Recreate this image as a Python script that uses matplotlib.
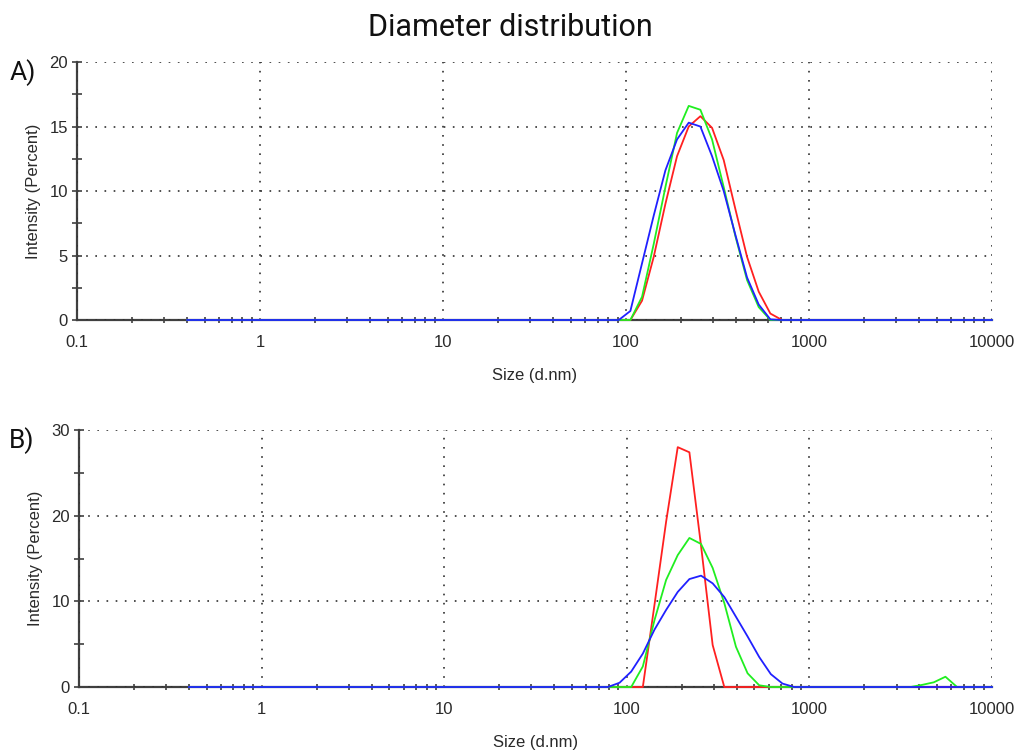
import numpy as np
import matplotlib.pyplot as plt
from matplotlib.ticker import FixedLocator, NullFormatter

# Size bins (d.nm)
sizes = [0.4, 0.4632, 0.5365, 0.6213, 0.7195, 0.8332, 0.9649, 1.117, 1.294, 1.499,
         1.736, 2.010, 2.328, 2.696, 3.122, 3.615, 4.187, 4.849, 5.615, 6.503,
         7.531, 8.721, 10.10, 11.70, 13.54, 15.69, 18.17, 21.04, 24.36, 28.21,
         32.67, 37.84, 43.82, 50.75, 58.77, 68.06, 78.82, 91.28, 105.7, 122.4,
         141.8, 164.2, 190.1, 220.2, 255.0, 295.3, 342.0, 396.1, 458.7, 531.2,
         615.1, 712.4, 825.0, 955.4, 1106, 1281, 1484, 1718, 1990, 2305,
         2669, 3091, 3580, 4145, 4801, 5560, 6439, 7456, 8635, 10000]

# nonzero part of each curve, starting at bin index given
# panel A
a_red_start = 38
a_red = [0.0, 1.5, 4.9, 9.0, 12.7, 15.0, 15.8, 14.9, 12.4, 8.6, 4.9, 2.2, 0.5, 0.0]
a_green_start = 38
a_green = [0.0, 1.8, 5.9, 10.3, 14.5, 16.6, 16.3, 14.0, 10.3, 6.5, 3.1, 1.0, 0.0]
a_blue_start = 37
a_blue = [0.0, 0.7, 4.4, 8.1, 11.6, 14.0, 15.3, 15.0, 12.7, 10.0, 6.6, 3.3, 1.2, 0.05, 0.0]

# panel B
b_red_start = 39
b_red = [0.0, 9.6, 19.3, 28.0, 27.4, 16.5, 4.9, 0.0]
b_green_start = 38
b_green = [0.0, 2.4, 7.8, 12.5, 15.4, 17.4, 16.7, 13.9, 9.8, 4.7, 1.6, 0.2, 0.0]
b_green_tail_start = 62
b_green_tail = [0.0, 0.25, 0.55, 1.2, 0.0]
b_blue_start = 36
b_blue = [0.0, 0.5, 1.8, 3.9, 6.7, 9.0, 11.1, 12.6, 13.0, 12.1, 10.5, 8.2, 5.9, 3.5, 1.5, 0.4, 0.0]


def curve(start, vals, tail=None):
    y = np.zeros(len(sizes))
    y[start:start + len(vals)] = vals
    if tail is not None:
        y[tail[0]:tail[0] + len(tail[1])] = tail[1]
    return y


plt.rcParams['font.family'] = ['Liberation Sans', 'DejaVu Sans']
spine_c = '#404040'
txt_c = '#2a2a2a'

fig = plt.figure(figsize=(10.17, 7.51), dpi=100)
axA = fig.add_axes([0.0757, 0.5739, 0.8997, 0.3435])
axB = fig.add_axes([0.0777, 0.0852, 0.8977, 0.3422])


def style(ax, ymax, ystep):
    ax.set_xscale('log')
    ax.set_xlim(0.1, 10000)
    ax.set_ylim(0, ymax)
    ax.set_xticks([0.1, 1, 10, 100, 1000, 10000])
    ax.set_xticklabels(['0.1', '1', '10', '100', '1000', '10000'])
    minors = [m * 10.0 ** e for e in range(-1, 4) for m in range(2, 10)]
    ax.xaxis.set_minor_locator(FixedLocator(minors))
    ax.xaxis.set_minor_formatter(NullFormatter())
    ax.set_yticks(np.arange(0, ymax + 1, ystep))
    ax.yaxis.set_minor_locator(FixedLocator(np.arange(ystep / 2, ymax, ystep)))
    for s in ['top', 'right']:
        ax.spines[s].set_visible(False)
    for s in ['left', 'bottom']:
        ax.spines[s].set_color(spine_c)
        ax.spines[s].set_linewidth(1.6)
        ax.spines[s].set_zorder(1)
    ax.tick_params(which='both', direction='inout', color=spine_c, width=1.2,
                   labelsize=12, labelcolor=txt_c)
    ax.tick_params(axis='x', which='major', length=0, pad=11)
    ax.tick_params(axis='x', which='minor', length=5)
    ax.tick_params(axis='y', which='both', length=7, pad=3)
    ax.grid(True, which='major', color='#303030', linestyle=(0, (1, 4.5)), linewidth=1.2)
    ax.set_xlabel('Size (d.nm)', fontsize=12, color=txt_c, labelpad=13)
    ax.set_ylabel('Intensity (Percent)', fontsize=12, color=txt_c, labelpad=6)


style(axA, 20, 5)
style(axB, 30, 10)

lw = 1.3
axA.plot(sizes, curve(a_red_start, a_red), color='#ff2020', lw=lw, clip_on=False, zorder=3)
axA.plot(sizes, curve(a_green_start, a_green), color='#20ee20', lw=lw, clip_on=False, zorder=4)
axA.plot(sizes, curve(a_blue_start, a_blue), color='#2020ff', lw=lw, clip_on=False, zorder=5)

axB.plot(sizes, curve(b_red_start, b_red), color='#ff2020', lw=lw, clip_on=False, zorder=3)
axB.plot(sizes, curve(b_green_start, b_green, (b_green_tail_start, b_green_tail)),
         color='#20ee20', lw=lw, clip_on=False, zorder=4)
axB.plot(sizes, curve(b_blue_start, b_blue), color='#2020ff', lw=lw, clip_on=False, zorder=5)

fig.text(0.502, 0.963, 'Diameter distribution', ha='center', va='center',
         fontsize=22, color='#111111', family=['Roboto', 'DejaVu Sans'])
fig.text(0.009, 0.903, 'A)', ha='left', va='center', fontsize=19, color='#111111',
         family=['Roboto', 'DejaVu Sans'])
fig.text(0.009, 0.413, 'B)', ha='left', va='center', fontsize=19, color='#111111',
         family=['Roboto', 'DejaVu Sans'])

fig.savefig('out.png', dpi=100)
